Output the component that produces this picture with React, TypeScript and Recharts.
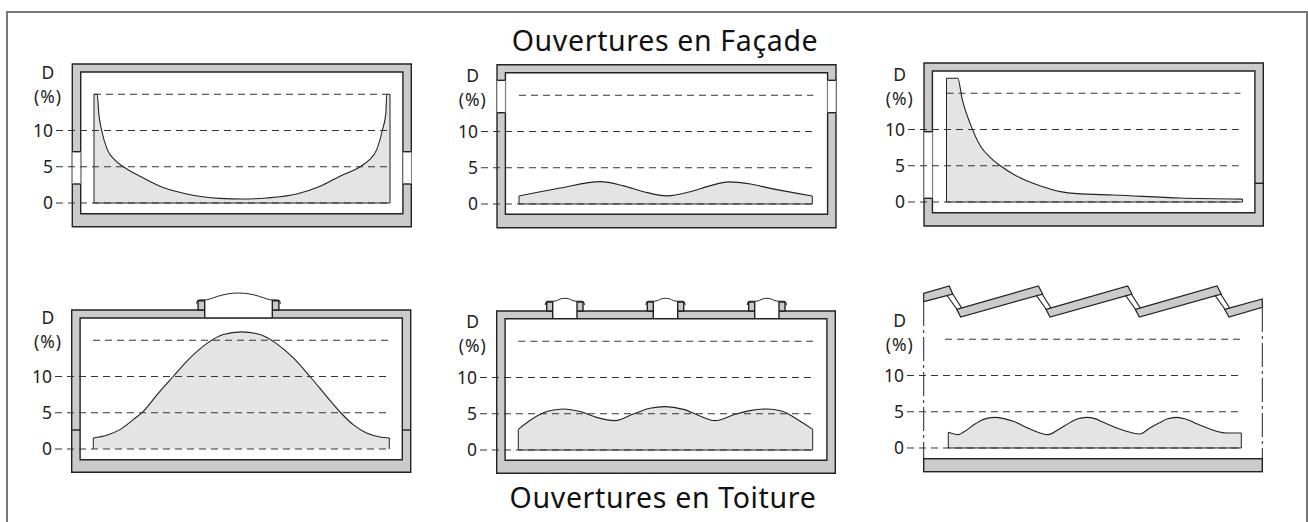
import { AreaChart, Area, XAxis, YAxis, ReferenceLine } from 'recharts';

const FONT = '"Noto Sans", sans-serif';
const INK = '#222';
const WALL = '#cbcbcb';
const FILL = '#e4e4e4';

const gridValues = [0, 5, 10];
const yTicks = [0, 5, 10];
const topGridValue = 15;

// x = position across the room (%), y = daylight factor D (%)
const sideBothX = [0, 1.1, 1.6, 2.6, 4.5, 7.1, 9.9, 15.5, 22.3, 31.3, 42.6, 49.9, 58.3, 68.5, 76.4, 83.1, 89.9, 92.9, 95.5, 97.4, 98.6, 98.9, 100];
const sideBothY = [15, 15, 12.4, 10, 7.36, 5.9, 5, 3.7, 2.3, 1.24, 0.64, 0.55, 0.69, 1.24, 2.3, 3.7, 5, 5.9, 7.36, 10, 12.4, 15, 15];

const highBothX = [0, 14, 27.7, 35.7, 42.5, 50.5, 58.4, 65, 71.5, 79, 85.7, 100];
const highBothY = [1.1, 2.2, 3.08, 2.5, 1.7, 1.12, 1.7, 2.5, 3.05, 2.75, 2.15, 1.1];

const sideOneX = [0, 3.8, 5.3, 8.1, 11.5, 14.9, 18.2, 25, 31.8, 38.5, 44.1, 56.5, 79, 100];
const sideOneY = [17.07, 17.07, 14.2, 10.7, 7.7, 6.1, 5, 3.3, 2.2, 1.43, 1.15, 0.97, 0.55, 0.4];

const domeX = [0, 4.5, 9, 13.5, 16.9, 22.5, 27, 32.7, 38.3, 43.9, 50.1, 56.3, 61.9, 67.6, 73.2, 78.8, 83.6, 87.8, 92.3, 96.8, 100];
const domeY = [1.52, 1.89, 2.67, 4.05, 5.2, 7.96, 10, 12.56, 14.54, 15.8, 16.15, 15.8, 14.54, 12.56, 10, 7.27, 5, 3.36, 2.2, 1.66, 1.52];

const threeDomesX = [0, 5.1, 9.6, 15.3, 21, 26.6, 32.8, 39.1, 44.7, 49.8, 56.1, 61.7, 66.8, 73, 78.7, 84.9, 90, 95.1, 100];
const threeDomesY = [2.85, 4.37, 5.3, 5.66, 5.3, 4.5, 4.05, 4.97, 5.75, 5.98, 5.6, 4.7, 4.05, 4.83, 5.43, 5.66, 5.3, 4.14, 2.85];

const sawtoothX = [0, 3.4, 5.1, 9.1, 12, 15.9, 19, 22.2, 27.9, 34.1, 37.5, 41.5, 44, 47.2, 50, 52.9, 59.7, 65.4, 68.8, 72.2, 74.6, 77.9, 81, 84.8, 95, 100];
const sawtoothY = [2.16, 1.84, 2.16, 3.3, 3.95, 4.23, 4.05, 3.68, 2.62, 1.84, 2.53, 3.5, 4, 4.23, 4.05, 3.54, 2.44, 1.93, 2.76, 3.5, 4, 4.23, 4, 3.36, 2.07, 2.07];

const toRows = (xs: number[], ys: number[]) => xs.map((x, i) => ({ x, y: ys[i] }));

const UNIT = 7.25;

interface PanelProps {
  xs: number[];
  ys: number[];
  gridLeft: number;
  gridRight: number;
  topLeft: number;
  topRight: number;
  areaLeft: number;
  areaRight: number;
  y0: number;
  solidBase: boolean;
}

function Panel({ xs, ys, gridLeft, gridRight, topLeft, topRight, areaLeft, areaRight, y0, solidBase }: PanelProps) {
  const axisWidth = 40;
  const plotRight = areaRight + 4;
  const toX = (px: number) => ((px - areaLeft) / (areaRight - areaLeft)) * 100;
  const yMax = 20;
  const yMin = -3;
  const dash = '7 5';

  return (
    <div style={{ position: 'absolute', left: gridLeft - axisWidth, top: y0 - yMax * UNIT }}>
      <AreaChart
        width={plotRight - gridLeft + axisWidth}
        height={(yMax - yMin) * UNIT}
        data={toRows(xs, ys)}
        margin={{ top: 0, right: 0, bottom: 0, left: 0 }}
      >
        <XAxis type="number" dataKey="x" domain={[toX(gridLeft), toX(plotRight)]} hide />
        <YAxis
          type="number"
          width={axisWidth}
          domain={[yMin, yMax]}
          ticks={yTicks}
          interval={0}
          axisLine={false}
          tickLine={false}
          tickSize={0}
          tickMargin={3}
          tick={{ fontSize: 17.5, fontFamily: FONT, fill: INK }}
        />
        <Area
          type="monotone"
          dataKey="y"
          baseValue={0}
          stroke={INK}
          strokeWidth={1.1}
          fill={FILL}
          fillOpacity={1}
          dot={false}
          activeDot={false}
          isAnimationActive={false}
        />
        <ReferenceLine segment={[{ x: 0, y: 0 }, { x: 0, y: ys[0] }]} stroke={INK} strokeWidth={1} />
        <ReferenceLine segment={[{ x: 100, y: 0 }, { x: 100, y: ys[ys.length - 1] }]} stroke={INK} strokeWidth={1} />
        {solidBase && <ReferenceLine segment={[{ x: 0, y: 0 }, { x: 100, y: 0 }]} stroke={INK} strokeWidth={1} />}
        {gridValues.map((v) => (
          <ReferenceLine
            key={v}
            segment={[{ x: toX(gridLeft), y: v }, { x: toX(gridRight), y: v }]}
            stroke="#333"
            strokeWidth={1}
            strokeDasharray={dash}
          />
        ))}
        <ReferenceLine
          segment={[{ x: toX(topLeft), y: topGridValue }, { x: toX(topRight), y: topGridValue }]}
          stroke="#333"
          strokeWidth={1}
          strokeDasharray={dash}
        />
      </AreaChart>
    </div>
  );
}

// building sections behind the charts
function WallBox({ x, y, w, h, t, b }: { x: number; y: number; w: number; h: number; t: number; b: number }) {
  const s = 8.4;
  return (
    <path
      d={`M${x} ${y}h${w}v${h}h${-w}z M${x + s} ${y + t}v${h - t - b}h${w - 2 * s}v${-(h - t - b)}z`}
      fill={WALL}
      fillRule="evenodd"
      stroke={INK}
      strokeWidth={1.4}
    />
  );
}

function Opening({ x, y1, y2 }: { x: number; y1: number; y2: number }) {
  return (
    <g>
      <rect x={x} y={y1} width={8.4} height={y2 - y1} fill="#fff" stroke="none" />
      <line x1={x} x2={x + 8.4} y1={y1} y2={y1} stroke={INK} strokeWidth={1.4} />
      <line x1={x} x2={x + 8.4} y1={y2} y2={y2} stroke={INK} strokeWidth={1.4} />
      <line x1={x} x2={x} y1={y1} y2={y2} stroke="#888" strokeWidth={0.8} />
      <line x1={x + 8.4} x2={x + 8.4} y1={y1} y2={y2} stroke="#888" strokeWidth={0.8} />
    </g>
  );
}

function Skylight({ l, r, outer, inner, top, crown, w }: { l: number; r: number; outer: number; inner: number; top: number; crown: number; w: number }) {
  const mid = (l + r) / 2;
  return (
    <g>
      <rect x={l} y={outer - 1} width={r - l} height={inner - outer + 1} fill="#fff" />
      <path d={`M${l} ${outer}H${l - w}V${top}H${l}V${inner}`} fill={WALL} stroke={INK} strokeWidth={1.4} />
      <path d={`M${r} ${inner}V${top}H${r + w}V${outer}H${r}`} fill={WALL} stroke={INK} strokeWidth={1.4} />
      <line x1={l} x2={r} y1={inner} y2={inner} stroke={INK} strokeWidth={1} />
      <path
        d={`M${l - w - 1.5} ${top + 3}Q${l - w - 1.5} ${top - 0.5} ${l - w + 1} ${top - 0.8}L${l + 1} ${top - 0.8}C${l + 6} ${top - 1} ${mid - (r - l) / 4} ${crown} ${mid} ${crown}C${mid + (r - l) / 4} ${crown} ${r - 6} ${top - 1} ${r - 1} ${top - 0.8}L${r + w - 1} ${top - 0.8}Q${r + w + 1.5} ${top - 0.5} ${r + w + 1.5} ${top + 3}`}
        fill="none"
        stroke={INK}
        strokeWidth={1}
      />
    </g>
  );
}

const roofStarts = [956.7, 1046, 1135.3];

function Sawtooth() {
  const stroke = { stroke: INK, strokeWidth: 1.2 };
  return (
    <g>
      <path d="M923.7 293.3L949.3 286L952.7 294L923.7 301.7Z" fill={WALL} {...stroke} />
      {roofStarts.map((x) => (
        <g key={x}>
          <path d={`M${x} 309.3L${x + 81.7} 286L${x + 86} 294L${x + 4} 317Z`} fill={WALL} {...stroke} />
          <line x1={x - 10} y1={295} x2={x} y2={309} {...stroke} />
          <line x1={x - 4} y1={294} x2={x + 5} y2={308} {...stroke} />
        </g>
      ))}
      <line x1={1214.7} y1={295} x2={1224.7} y2={309} {...stroke} />
      <line x1={1220.7} y1={294} x2={1229.7} y2={308} {...stroke} />
      <path d="M1224.7 309.3L1262.3 299V307.3L1229 317Z" fill={WALL} {...stroke} />
      <line x1={923.7} x2={923.7} y1={302} y2={458} stroke={INK} strokeWidth={1} strokeDasharray="24 4 3 4" />
      <line x1={1262.3} x2={1262.3} y1={308} y2={458} stroke={INK} strokeWidth={1} strokeDasharray="24 4 3 4" />
      <rect x={923.7} y={458.7} width={338.6} height={13} fill={WALL} stroke={INK} strokeWidth={1.4} />
    </g>
  );
}

const axisLabels = [
  { x: 48, y: 80 },
  { x: 472.7, y: 82.7 },
  { x: 899.7, y: 81.7 },
  { x: 48, y: 325 },
  { x: 472.7, y: 329 },
  { x: 899.7, y: 328.3 },
];

export default function App() {
  return (
    <div style={{ position: 'absolute', left: 0, top: 0, width: 1308, height: 522, background: '#fff', overflow: 'hidden' }}>
      <svg width={1308} height={522} style={{ position: 'absolute', left: 0, top: 0 }}>
        <path d="M7 522V12H1307V522" fill="none" stroke="#777" strokeWidth={2} />

        <WallBox x={72.3} y={64} w={339} h={162.7} t={8} b={13} />
        <Opening x={72.3} y1={151.7} y2={184} />
        <Opening x={403} y1={151.7} y2={184} />

        <WallBox x={497} y={64.7} w={339} h={163} t={8} b={13.4} />
        <Opening x={497} y1={80.3} y2={112.7} />
        <Opening x={827.6} y1={80.3} y2={112.7} />

        <WallBox x={924} y={63} w={339.3} h={163} t={8} b={13.3} />
        <Opening x={924} y1={131.7} y2={198.3} />
        <line x1={1254.9} x2={1263.3} y1={183.3} y2={183.3} stroke={INK} strokeWidth={1.4} />

        <WallBox x={71.7} y={310} w={339} h={162.3} t={8} b={12.6} />
        <line x1={71.7} x2={80.1} y1={430} y2={430} stroke={INK} strokeWidth={1.4} />
        <line x1={402.3} x2={410.7} y1={430} y2={430} stroke={INK} strokeWidth={1.4} />
        <Skylight l={204.7} r={272.3} outer={310} inner={317.8} top={300.7} crown={293} w={6.6} />

        <WallBox x={496.7} y={311} w={338.6} h={162.3} t={7.7} b={13} />
        <Skylight l={552.7} r={577} outer={311} inner={318.5} top={302} crown={298.3} w={6} />
        <Skylight l={653.3} r={677.7} outer={311} inner={318.5} top={302} crown={298.3} w={6} />
        <Skylight l={754.7} r={779} outer={311} inner={318.5} top={302} crown={298.3} w={6} />

        <Sawtooth />

        <text x={665} y={50.7} textAnchor="middle" fontFamily={FONT} fontSize={28.5} letterSpacing={0.65} fill="#111">Ouvertures en Façade</text>
        <text x={663} y={507.7} textAnchor="middle" fontFamily={FONT} fontSize={28.5} letterSpacing={0.65} fill="#111">Ouvertures en Toiture</text>

        {axisLabels.map((l) => (
          <g key={l.x + '-' + l.y} fontFamily={FONT} fill={INK} textAnchor="middle">
            <text x={l.x} y={l.y - 1} fontSize={17.5}>D</text>
            <text x={l.x} y={l.y + 23} fontSize={17.5} letterSpacing={1}>(%)</text>
          </g>
        ))}
      </svg>

      <Panel xs={sideBothX} ys={sideBothY} gridLeft={56} gridRight={387} topLeft={94} topRight={387} areaLeft={94} areaRight={390} y0={203.3} solidBase />
      <Panel xs={highBothX} ys={highBothY} gridLeft={480.7} gridRight={811.7} topLeft={518.7} topRight={813} areaLeft={518.7} areaRight={812} y0={204} solidBase />
      <Panel xs={sideOneX} ys={sideOneY} gridLeft={907.5} gridRight={1238.3} topLeft={946} topRight={1240} areaLeft={946} areaRight={1242} y0={202.3} solidBase />
      <Panel xs={domeX} ys={domeY} gridLeft={55} gridRight={386} topLeft={93} topRight={388.7} areaLeft={93.3} areaRight={389.3} y0={449.3} solidBase={false} />
      <Panel xs={threeDomesX} ys={threeDomesY} gridLeft={480} gridRight={811} topLeft={518.3} topRight={813} areaLeft={518.3} areaRight={812.7} y0={450} solidBase />
      <Panel xs={sawtoothX} ys={sawtoothY} gridLeft={907} gridRight={1238} topLeft={945} topRight={1240} areaLeft={948.3} areaRight={1241.3} y0={448.3} solidBase />
    </div>
  );
}
